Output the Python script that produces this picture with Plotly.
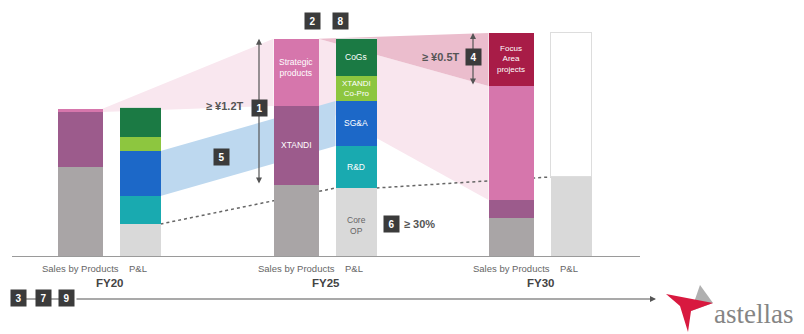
import plotly.graph_objects as go

# ---------------- data (approx. ¥ billion) ----------------
years = ["FY20", "FY25", "FY30"]
sales_other = [757, 604, 323]
sales_xtandi = [468, 672, 153]
sales_strategic = [26, 570, 969]
sales_focus = [0, 0, 451]

pl_core_op = [272, 578, 672]
pl_rd = [238, 357, 0]
pl_sga = [383, 383, 0]
pl_copro = [119, 213, 0]
pl_cogs = [247, 315, 0]
pl_blank = [0, 0, 1224]

sub_labels = ["Sales by Products", "P&L"]

# ---------------- layout helpers ----------------
W, H = 804, 334
BASE_PX = 256          # pixel row of the baseline
K = 8.5                # value units per pixel
centers = [110, 326, 541]
OFF = 30
SW, PW = 45, 41
sales_x = [c - OFF for c in centers]
pl_x = [c + OFF for c in centers]
FONT = "Liberation Sans, Arial, sans-serif"


def vy(p):
    """pixel row -> value"""
    return (BASE_PX - p) * K


def cum(*arrs):
    return [sum(a[i] for a in arrs) for i in range(len(arrs[0]))]


fig = go.Figure()

C = dict(other="#a9a5a6", xtandi="#9c5b8c", strat="#d676ac", focus="#a81c47",
         core="#d9d9d9", rd="#19aab0", sga="#1c68c8", copro="#8dc63f", cogs="#1b7a44")

for vals, col in [(sales_other, C["other"]), (sales_xtandi, C["xtandi"]),
                  (sales_strategic, C["strat"]), (sales_focus, C["focus"])]:
    fig.add_trace(go.Bar(x=sales_x, y=vals, width=[SW] * 3, marker_color=col,
                         marker_line_width=0, showlegend=False, hoverinfo="skip"))
for vals, col, lw in [(pl_core_op, C["core"], 0), (pl_rd, C["rd"], 0), (pl_sga, C["sga"], 0),
                      (pl_copro, C["copro"], 0), (pl_cogs, C["cogs"], 0), (pl_blank, "white", 1)]:
    fig.add_trace(go.Bar(x=pl_x, y=vals, width=[PW] * 3, marker_color=col,
                         marker_line_width=lw, marker_line_color="#dddddd",
                         showlegend=False, hoverinfo="skip"))

shapes = []


def poly(pts, color):
    path = "M " + " L ".join(f"{x},{y}" for x, y in pts) + " Z"
    shapes.append(dict(type="path", path=path, fillcolor=color, line_width=0,
                       xref="x", yref="y", layer="below"))


s_c1 = cum(sales_other, sales_xtandi)
s_c2 = cum(sales_other, sales_xtandi, sales_strategic)
s_c3 = cum(sales_other, sales_xtandi, sales_strategic, sales_focus)
p_c1 = cum(pl_core_op, pl_rd)
p_c2 = cum(pl_core_op, pl_rd, pl_sga)

# FY20 -> FY25 strategic fan
poly([(sales_x[0] + SW / 2, s_c1[0]), (sales_x[0] + SW / 2, s_c2[0]),
      (sales_x[1] - SW / 2, s_c2[1]), (sales_x[1] - SW / 2, s_c1[1])], "#f9e7ef")
# FY25 -> FY30 strategic fan
poly([(sales_x[1] + SW / 2, s_c1[1]), (sales_x[1] + SW / 2, s_c2[1]),
      (sales_x[2] - SW / 2, s_c2[2]), (sales_x[2] - SW / 2, s_c1[2])], "#f9e6ee")
# focus wedge
poly([(sales_x[1] + SW / 2, s_c2[1]),
      (sales_x[2] - SW / 2, s_c3[2]), (sales_x[2] - SW / 2, s_c2[2])], "#ebbdcd")
# SG&A blue band
poly([(pl_x[0] + PW / 2, p_c1[0]), (pl_x[0] + PW / 2, p_c2[0]),
      (pl_x[1] - PW / 2, p_c2[1]), (pl_x[1] - PW / 2, p_c1[1])], "#bdd8ef")

# dotted core OP lines
for a, b in [(0, 1), (1, 2)]:
    shapes.append(dict(type="line", xref="x", yref="y", layer="below",
                       x0=pl_x[a] + PW / 2, y0=pl_core_op[a], x1=pl_x[b] - PW / 2, y1=pl_core_op[b],
                       line=dict(color="#666666", width=1.5, dash="dot")))

# baseline
shapes.append(dict(type="line", xref="x", yref="y", x0=12, x1=640, y0=vy(256.5), y1=vy(256.5),
                   line=dict(color="#9a9a9a", width=1.2)))

# logo star (red swoosh + gray)
logo_red = [(666, 294), (713, 303), (691, 311), (688, 332), (680, 306)]
logo_gray = [(700, 285), (713, 303), (691, 311)]
for pts, col in [(logo_gray, "#b0b0b0"), (logo_red, "#d8193f")]:
    path = "M " + " L ".join(f"{x},{vy(y)}" for x, y in pts) + " Z"
    shapes.append(dict(type="path", path=path, fillcolor=col, line_width=0, xref="x", yref="y"))

ann = []


def text(t, x, y, size=8.5, color="white", bold=False, xanchor="center", family=FONT):
    if bold:
        t = f"<b>{t}</b>"
    ann.append(dict(text=t, x=x, y=y, xref="x", yref="y", showarrow=False,
                    font=dict(size=size, color=color, family=family), xanchor=xanchor,
                    yanchor="middle"))


def box(t, px, py):
    ann.append(dict(text=f"<b>{t}</b>", x=px, y=vy(py), xref="x", yref="y", showarrow=False,
                    font=dict(size=10, color="white", family=FONT), bgcolor="#3b3b3b",
                    width=15, height=16, borderpad=0, xanchor="center", yanchor="middle"))


def mid(lo, hi):
    return (lo + hi) / 2


# in-bar labels
text("Strategic<br>products", sales_x[1], vy(67))
text("XTANDI", sales_x[1], mid(sales_other[1], s_c1[1]))
text("CoGs", pl_x[1], mid(cum(pl_core_op, pl_rd, pl_sga, pl_copro)[1], cum(pl_core_op, pl_rd, pl_sga, pl_copro, pl_cogs)[1]))
text("XTANDI<br>Co-Pro", pl_x[1], mid(p_c2[1], cum(pl_core_op, pl_rd, pl_sga, pl_copro)[1]), size=8)
text("SG&A", pl_x[1], mid(p_c1[1], p_c2[1]))
text("R&D", pl_x[1], mid(pl_core_op[1], p_c1[1]))
text("Core<br>OP", pl_x[1], vy(225), color="#666666")
text("Focus<br>Area<br>projects", sales_x[2], mid(s_c2[2], s_c3[2]), size=8)

# sub labels and years
for i, y in enumerate(years):
    text(sub_labels[0], sales_x[i], vy(268), size=9.5, color="#666666")
    text(sub_labels[1], pl_x[i] - 2, vy(268), size=9.5, color="#666666")
    text(y, centers[i], vy(283), size=11.5, color="#444444", bold=True)

# arrows
def darrow(x, y0, y1):
    ann.append(dict(x=x, y=y0, ax=x, ay=y1, xref="x", yref="y", axref="x", ayref="y",
                    text="", showarrow=True, arrowhead=2, arrowside="end+start",
                    startarrowhead=2, arrowsize=1, arrowwidth=1.2, arrowcolor="#555555"))


darrow(259, s_c2[1], sales_other[1])
darrow(473, s_c3[2], s_c2[2])

text("≥ ¥1.2T", 246, vy(106), size=11, color="#555555", bold=True, xanchor="right")
box("1", 259, 108)
text("≥ ¥0.5T", 462, vy(57), size=11, color="#555555", bold=True, xanchor="right")
box("4", 473, 57)
box("5", 221, 157)
box("6", 391, 224)
text("≥ 30%", 402, vy(224), size=11, color="#555555", bold=True, xanchor="left")
box("2", 312, 21)
box("8", 340, 21)
box("3", 18, 298)
box("7", 43, 298)
box("9", 66, 298)

# timeline arrow
ann.append(dict(x=656, y=vy(299), ax=75, ay=vy(299), xref="x", yref="y", axref="x", ayref="y",
                text="", showarrow=True, arrowhead=2, arrowsize=1, arrowwidth=1.2,
                arrowcolor="#555555"))
# connectors between boxes
shapes.append(dict(type="line", xref="x", yref="y", x0=25, x1=36, y0=vy(299), y1=vy(299),
                   line=dict(color="#555555", width=1)))
shapes.append(dict(type="line", xref="x", yref="y", x0=50, x1=59, y0=vy(299), y1=vy(299),
                   line=dict(color="#555555", width=1)))

text("astellas", 753, vy(314), size=27, color="#858585", family="Liberation Serif, serif")

fig.update_layout(
    width=W, height=H, margin=dict(l=0, r=0, t=0, b=0),
    barmode="stack", bargap=0,
    plot_bgcolor="white", paper_bgcolor="white",
    xaxis=dict(range=[0, W], visible=False, fixedrange=True),
    yaxis=dict(range=[vy(H), vy(0)], visible=False, fixedrange=True),
    shapes=shapes, annotations=ann, showlegend=False,
)

fig.write_html("out.html")
